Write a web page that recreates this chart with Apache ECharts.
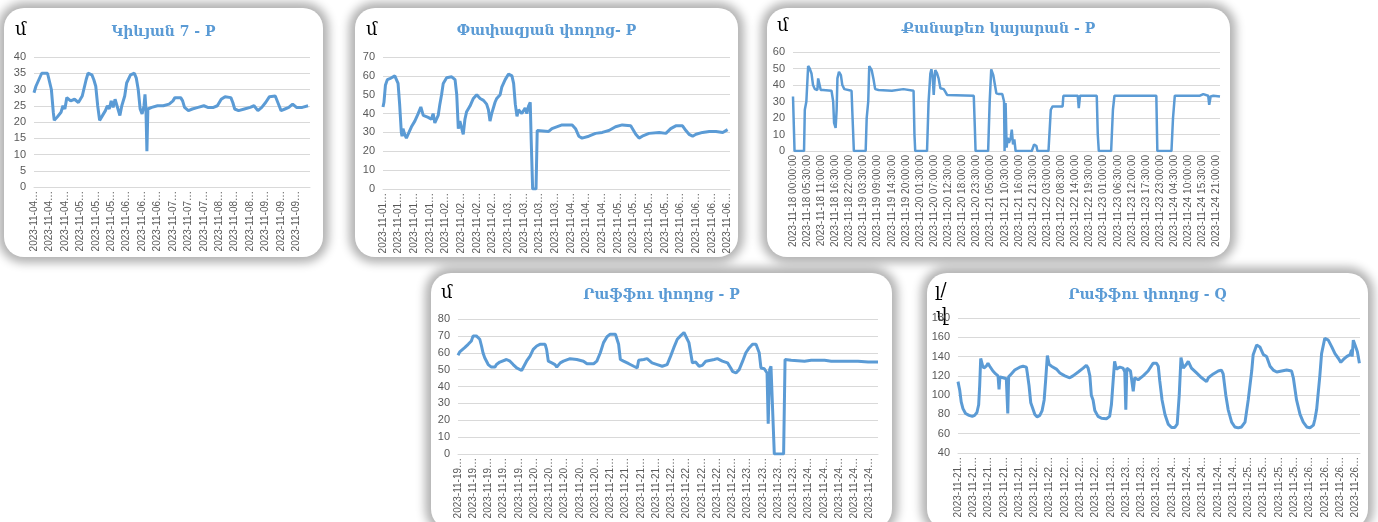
<!DOCTYPE html>
<html>
<head>
<meta charset="utf-8">
<script src="https://cdn.jsdelivr.net/npm/echarts@6/dist/echarts.min.js"></script>
<style>
  body { margin: 0; width: 1378px; height: 522px; background: #fff; overflow: hidden; position: relative; }
  .card { position: absolute; background: #fff; border-radius: 20px; box-shadow: 0 0 10px 6px rgba(0,0,0,0.30); }
</style>
</head>
<body>
<div id="c1" class="card" style="left:4px;top:8px;width:319px;height:249px"></div>
<div id="c2" class="card" style="left:355px;top:8px;width:383px;height:249px"></div>
<div id="c3" class="card" style="left:767px;top:8px;width:463px;height:249px"></div>
<div id="c4" class="card" style="left:431px;top:273px;width:461px;height:256px"></div>
<div id="c5" class="card" style="left:927px;top:273px;width:441px;height:256px"></div>
<script>
// points are [hours since start of first day, value]

const kievyanP = [[0,29],[1,31],[2,31.5],[4,35],[5,35.5],[7,35],[9,30],[10,23],[10.5,20.5],[12,21.5],[14,23],[15,25],[16,24],[17,27.5],[19,26.5],[21,27],[23,26],[24,27],[25,28],[27,33],[28,35],[30,34.5],[31,33],[32,31],[33,25],[34,20.5],[35,21.5],[37,23.5],[38,25],[39,24],[40,26.5],[41,24.5],[42,27],[43,25],[44,25],[44.5,22],[45.5,25],[47,28],[48,32],[50,34.5],[52,35],[53,33.5],[54,30],[55,24],[56,22.5],[57,25],[57.5,28.5],[58,24],[58.5,11],[59,24],[61,24.5],[64,25],[67,25],[70,25.5],[72,26.5],[73,27.5],[76,27.5],[77,26.5],[78,24.5],[80,23.5],[82,24],[85,24.5],[88,25],[90,24.5],[93,24.5],[95,25],[97,27],[99,27.8],[102,27.5],[103,26],[104,24],[106,23.5],[109,24],[112,24.5],[114,25],[116,23.5],[118,24.5],[120,26],[122,27.8],[125,28],[127,25],[128,23.5],[130,24],[132,24.5],[134,25.5],[136,24.5],[139,24.5],[142,25]];

const papazyanP = [[0,43.5],[0.4,46],[1,55],[1.8,58],[2.8,58.5],[4.9,60],[5.6,59.5],[6.25,56],[6.9,45],[7.6,30],[7.9,28],[8.3,32],[9,29],[9.7,27],[10.4,29],[11.8,33],[13.2,36],[14.6,40],[15.7,43.5],[16.7,39],[18.75,38],[20.1,37],[20.8,40],[21.5,35],[22.9,39],[23.6,45],[24.3,50],[25,56],[26.4,59],[27.1,60],[28.5,59.5],[29.9,58],[30.6,50],[31.25,32],[31.9,36],[32.6,35],[33.3,29],[34,37],[34.7,41],[36.1,44],[37.5,48],[38.9,50],[40.3,48],[41.7,47],[43,45],[43.75,42],[44.4,36],[45.1,40],[46.5,46],[47.2,48],[48.6,50],[49.3,54],[50.7,58],[52.1,61],[53.5,60],[54.2,56],[54.9,45],[55.6,38.5],[56.25,42],[57.6,40],[59,43],[59.7,40],[60.4,44],[61.1,46],[61.5,26],[62.1,0],[63.5,0],[64,31],[64.6,32],[68.75,30.5],[70.1,32],[74.3,34],[78.5,34],[79.9,32],[81.25,28],[82.6,27],[85.4,28],[88.2,29.5],[91,30],[93.75,31],[96.5,33],[99.3,34],[102.8,33.5],[104.9,29],[106.25,27],[107.6,28],[110.4,29.5],[114.6,30],[117.4,29.5],[119.4,32],[121.5,33.5],[124.3,33.5],[125.7,31],[127,29],[128.5,28],[129.9,29],[132.6,30],[135.4,30.5],[138.2,30.5],[141,30],[143,31.5]];

const kanakerP = [[0,33],[0.6,0],[4.3,0],[4.6,25],[5.2,30],[5.9,51.5],[6.5,50],[7.2,47],[7.8,40],[8.5,37.5],[9.5,37],[9.8,44],[10.4,43],[10.8,37],[11.7,37],[15,36.5],[15.65,30],[16,17],[16.6,14],[17,25],[17.3,44],[17.9,48],[18.65,46],[19.2,40],[20,37.5],[22.8,36.5],[23.2,20],[23.7,0],[28.3,0],[28.7,20],[29.3,30],[29.7,51.5],[30.65,49],[31.3,44],[32,37.5],[33.3,37],[38.5,36.5],[43,37.5],[43.7,36.5],[46.95,36.5],[47.3,10],[47.6,0],[52.2,0],[52.8,30],[53.5,47],[53.9,49.5],[54.4,45],[54.8,34],[55.4,49],[56.1,47],[56.7,44],[57.4,38],[58.7,37.5],[59.3,36],[60,34],[60.65,33.5],[70.4,33.5],[70.8,15],[71.1,0],[76,0],[76.6,30],[77.2,49.5],[78,46],[78.65,40],[79.2,35],[80.2,34.5],[81.5,34.5],[82.2,30],[82.4,0],[82.8,29],[83.2,2],[83.6,8],[84.1,5],[84.8,8],[85.2,13],[85.7,4],[86.2,7],[86.7,0],[93,0],[93.9,4],[94.8,3],[95.2,0],[99.5,0],[100.4,25],[101.1,27],[105,27],[105.3,33.5],[110.9,33.5],[111.3,26],[111.8,33.5],[118.3,33.5],[118.7,10],[119.1,0],[123.9,0],[124.6,25],[125.2,33.5],[141.5,33.5],[141.9,0],[147.4,0],[148,20],[148.7,33.5],[158.5,33.5],[159.8,34.5],[161.7,33.5],[162.1,28],[162.65,33],[163.7,33.5],[166.3,33]];

const raffiP = [[0,58.5],[0.6,60.5],[2.3,63],[3.5,65],[4.6,67],[5.2,70],[6.3,70],[7.5,68],[8.1,64],[8.6,60],[9.2,57],[10.4,53],[11.5,51.5],[12.7,51.5],[13.25,53],[14.4,54.5],[16.7,56],[17.9,55],[19,53],[20.2,51],[21.9,49.5],[22.5,50],[23.6,55],[24.8,58],[25.9,62],[27.1,64],[28.2,65],[30,65],[30.5,62],[31.1,55],[32.3,54],[33.4,53],[34,51.5],[35.2,54],[36.3,55],[38.6,56.5],[40.9,56],[43.2,55],[44.4,53.5],[46.7,53.5],[47.8,55],[49,60],[50.1,66],[51.3,69.5],[52.4,71],[54.2,71],[55.3,65],[55.9,56],[57,55],[58.8,53.5],[60.5,52],[61.7,51],[62.2,55.5],[63.95,56],[65.1,56.5],[66.8,54],[68.6,53],[70.3,52],[70.9,51.5],[72,53],[73.2,58],[74.3,63],[75.5,68],[76.6,70],[77.8,72],[78.4,71.5],[79.5,66],[80.1,60],[80.7,54],[81.8,54.5],[83,52],[84.1,52.5],[85.3,55],[88.2,56],[89.3,56.5],[91,55],[92.8,54],[93.9,51],[94.5,49],[95.7,48],[96.8,50],[98,55],[99.1,60],[100.3,63],[101.4,65],[102.6,65],[103.7,60],[104.3,51],[105.45,50.5],[106.4,48],[106.8,18],[107.3,50],[107.75,52],[108.3,53],[108.9,0],[112.1,0],[112.6,56],[114.7,55.5],[119.3,55],[121.6,55.5],[126.2,55.5],[128.5,55],[133.1,55],[137.7,55],[141.2,54.5],[144.6,54.5]];

const raffiQ = [[0,114],[0.6,105],[1.1,93],[1.7,86],[2.6,81],[3.8,79],[4.9,78],[5.7,79],[6.5,82],[7.1,90],[7.45,110],[7.8,138],[8.4,131],[8.9,128],[9.7,130],[10.3,133],[10.9,130],[11.5,128],[12,125],[12.95,122],[13.75,120],[14.1,106],[14.4,119],[15.5,118],[16.6,117],[17.1,81],[17.4,119],[18.3,122],[19.5,126],[21.2,129],[22.35,130],[23.5,129],[23.8,123],[24.4,110],[25,92],[25.6,87],[26.4,80],[27.2,77.5],[28.1,79],[28.9,84],[29.6,95],[30.1,115],[30.7,141],[31.3,132],[32.1,130],[32.7,132],[33.8,127],[35,123],[36.7,120],[38.4,118],[39.5,120],[41.3,124],[43,128],[44.1,131],[44.7,128],[45.3,120],[45.8,100],[46.4,95],[47,84],[48.1,78],[49.3,76],[51,75.5],[52.1,78],[52.7,90],[53.3,115],[53.8,135],[54.4,127],[55.6,129],[56.7,128],[57.3,124],[57.65,85],[58,128],[58.45,130],[59.25,125],[60.2,104],[60.7,118],[61.9,116],[63.6,120],[65.3,125],[67,133],[68.2,133],[68.8,130],[69.3,115],[70.1,95],[71.1,80],[72.2,70],[73.35,66.5],[74.5,66.5],[75.3,70],[76,100],[76.6,139],[77.4,128],[78.5,132],[79.1,135],[80.2,128],[81.95,123],[83.7,118],[85.4,114],[86,118],[87.7,122],[89.4,125],[90.5,126],[91.1,122],[92,100],[92.8,85],[94,72],[95.1,67],[96.3,66],[97.4,67],[98.6,72],[99.7,95],[100.9,125],[101.4,142],[102.6,152],[103.7,150],[104.9,142],[106,140],[107.2,130],[108.3,126],[109.5,124],[111.2,125],[112.9,126],[114.6,125],[115.2,118],[116.3,95],[117.5,80],[118.6,72],[119.8,67],[120.9,66],[122.1,69],[122.6,75],[123.2,85],[124.3,120],[124.9,143],[126,159],[127.2,157],[128.4,150],[129.5,143],[130.7,138],[131.5,134],[132.4,137],[133.5,140],[134.7,142],[135.2,147],[135.4,140],[135.8,157],[136.4,152],[137.2,145],[137.9,133]];

const BLUE = '#5B9BD5';
const GRID_GRAY = '#D9D9D9';
const LABEL_GRAY = '#595959';

function timeLabel(startDay, step, full) {
  return function (v) {
    const k = v / step;
    if (Math.abs(k - Math.round(k)) > 1e-6) return '';
    const d = new Date(Date.UTC(2023, 10, startDay) + Math.round(v * 60) * 60000);
    const iso = d.toISOString();
    return full ? iso.slice(0, 10) + ' ' + iso.slice(11, 19) : iso.slice(0, 10) + '…';
  };
}

function makeChart(id, cfg) {
  const chart = echarts.init(document.getElementById(id), null, { renderer: 'canvas' });
  const units = cfg.units.map(u => ({
    type: 'text', left: u.x, top: u.y,
    style: { text: u.text, font: '18px "DejaVu Serif"', fill: '#000' }
  }));
  chart.setOption({
    animation: false,
    title: {
      text: cfg.title, left: 'center', top: cfg.titleTop,
      textStyle: { color: BLUE, fontFamily: '"DejaVu Serif", "DejaVu Sans"', fontWeight: 'bold', fontSize: 14 }
    },
    graphic: units,
    grid: Object.assign({ outerBoundsMode: 'none', containLabel: false }, cfg.grid),
    xAxis: {
      type: 'value', min: 0, max: cfg.xMax, interval: cfg.step,
      axisLine: { show: true, lineStyle: { color: GRID_GRAY } },
      axisTick: { show: false },
      splitLine: { show: false },
      axisLabel: {
        rotate: 90, margin: 4, color: LABEL_GRAY, fontSize: 10,
        fontFamily: '"Liberation Sans", Arial', showMaxLabel: false,
        formatter: timeLabel(cfg.startDay, cfg.step, cfg.fullLabels)
      }
    },
    yAxis: {
      type: 'value', min: cfg.yMin, max: cfg.yMax, interval: cfg.yStep,
      axisLine: { show: false }, axisTick: { show: false },
      splitLine: { lineStyle: { color: GRID_GRAY } },
      axisLabel: { color: LABEL_GRAY, fontSize: 11, margin: 8, fontFamily: '"Liberation Sans", Arial' }
    },
    series: [{
      type: 'line', data: cfg.data, showSymbol: false, symbol: 'none',
      lineStyle: { color: BLUE, width: cfg.lineWidth || 3 }
    }]
  });
}

makeChart('c1', {
  title: 'Կիևյան 7 - P', titleTop: 12, units: [{ text: 'մ', x: 11, y: 13 }],
  grid: { left: 30, right: 13, top: 49, bottom: 70 },
  startDay: 4, step: 8, xMax: 143, yMin: 0, yMax: 40, yStep: 5, data: kievyanP
});
makeChart('c2', {
  title: 'Փափազյան փողոց- P', titleTop: 11, units: [{ text: 'մ', x: 11, y: 13 }],
  grid: { left: 28, right: 8, top: 49, bottom: 68 },
  startDay: 1, step: 6.5, xMax: 144, yMin: 0, yMax: 70, yStep: 10, data: papazyanP
});
makeChart('c3', {
  title: 'Քանաքեռ կայարան - P', titleTop: 9, units: [{ text: 'մ', x: 10, y: 9 }],
  grid: { left: 26, right: 10, top: 44, bottom: 106 },
  startDay: 18, step: 5.5, xMax: 166.3, yMin: 0, yMax: 60, yStep: 10, data: kanakerP,
  fullLabels: true, lineWidth: 2.5
});
makeChart('c4', {
  title: 'Րաֆֆու փողոց - P', titleTop: 10, units: [{ text: 'մ', x: 10, y: 11 }],
  grid: { left: 27, right: 14, top: 46, height: 135 },
  startDay: 19, step: 5.25, xMax: 144.6, yMin: 0, yMax: 80, yStep: 10, data: raffiP
});
makeChart('c5', {
  title: 'Րաֆֆու փողոց - Q', titleTop: 10, units: [{ text: 'լ/', x: 8, y: 9 }, { text: 'վ', x: 9, y: 34 }],
  grid: { left: 31, right: 8, top: 45, height: 135 },
  startDay: 21, step: 5.25, xMax: 138.1, yMin: 40, yMax: 180, yStep: 20, data: raffiQ
});
</script>
</body>
</html>
